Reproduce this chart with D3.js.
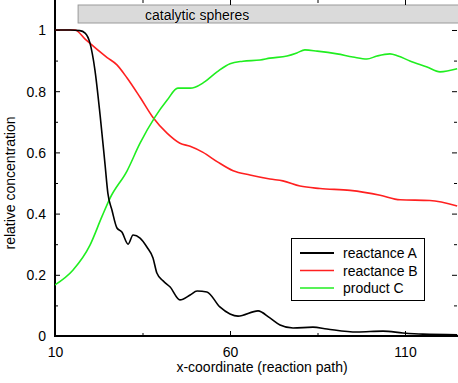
<!DOCTYPE html>
<html><head><meta charset="utf-8">
<script src="https://cdn.jsdelivr.net/npm/d3@7"></script>
<style>
body{margin:0;background:#fff;}
text{font-family:"Liberation Sans",Arial,Helvetica,sans-serif;}
</style></head>
<body><svg id="c" width="458" height="383"></svg>
<script>
const seriesNames = ["reactance A", "reactance B", "product C"];
const seriesColors = ["#000000", "#ff2020", "#20ee20"];
const xA = [10,14.3,17.1,18.6,20,21.4,22.9,24.3,25.1,26.3,27.7,29.1,30.9,32.3,34.3,36.3,38,39.1,40.9,42.9,45.7,48.6,50.6,53.4,57.1,60,62.3,68,71.4,74.3,78,83.7,87.7,96.3,103.7,109.4,115.1,124.9];
const yA = [1.0,1.0,0.998,0.99,0.957,0.87,0.72,0.56,0.467,0.41,0.353,0.34,0.30,0.33,0.32,0.29,0.255,0.206,0.18,0.16,0.118,0.134,0.147,0.144,0.095,0.072,0.065,0.082,0.059,0.036,0.026,0.029,0.023,0.013,0.016,0.01,0.006,0.004];
const xB = [10,15.7,18.6,24.9,27.7,30.6,34.3,38,42,45.7,48.6,52.3,56.3,60.9,65.7,71.4,75.1,80,85.7,94.3,102.9,108.6,117.1,124.9];
const yB = [1.0,1.0,0.97,0.91,0.886,0.843,0.78,0.714,0.663,0.63,0.62,0.60,0.57,0.54,0.526,0.513,0.507,0.49,0.482,0.476,0.46,0.445,0.443,0.425];
const xC = [10,15.1,20,23.4,25.7,30.6,34.3,38.6,42,45.1,48.6,50,52.3,56.3,60,63.7,68.6,71.4,76.3,79.1,81.4,84.9,90.6,95.1,99.1,102,105.7,108,111.4,116.3,120,124.9];
const yC = [0.167,0.215,0.297,0.39,0.45,0.54,0.63,0.716,0.77,0.81,0.81,0.813,0.827,0.863,0.89,0.898,0.902,0.908,0.915,0.925,0.935,0.931,0.922,0.912,0.905,0.915,0.922,0.915,0.899,0.879,0.863,0.873];
const xMajor = [10,60,110];
const xMinor = [35,85];
const yMajor = [0,0.2,0.4,0.6,0.8,1];
const yMinor = [0.1,0.3,0.5,0.7,0.9];
const yLabels = ["0","0.2","0.4","0.6","0.8","1"];
const bandRange = [16.6, 126];
const bandLabel = "catalytic spheres";

const svg = d3.select("#c");
const L = 55, R = 458, T = 0, B = 336;
const x = d3.scaleLinear().domain([10, 125.14]).range([L, R]);
const y = d3.scaleLinear().domain([0, 1.098]).range([B, T]);

svg.append("defs").append("clipPath").attr("id","clip")
  .append("rect").attr("x",L).attr("y",T).attr("width",R-L).attr("height",B-T);

// band
svg.append("rect").attr("x", x(bandRange[0])).attr("y", 5)
  .attr("width", x(bandRange[1]) - x(bandRange[0])).attr("height", 18)
  .attr("fill", "#dadada").attr("stroke", "#9a9a9a").attr("stroke-width", 1);
svg.append("text").attr("x", 145).attr("y", 19.5).attr("font-size", 14)
  .attr("fill", "#000").attr("stroke","#fff").attr("stroke-width",0.6).attr("paint-order","stroke").text(bandLabel);

// axes
const fmt = (d,i) => yLabels[yMajor.indexOf(d)];
const gx = svg.append("g").attr("transform", `translate(0,${B})`)
  .call(d3.axisBottom(x).tickValues(xMajor).tickSize(-5).tickPadding(9).tickFormat(d3.format("d")));
const gxm = svg.append("g").attr("transform", `translate(0,${B})`)
  .call(d3.axisBottom(x).tickValues(xMinor).tickSize(-3).tickFormat(""));
const gxt = svg.append("g").attr("transform", `translate(0,${T})`)
  .call(d3.axisTop(x).tickValues(xMajor).tickSize(-5).tickFormat(""));
const gxtm = svg.append("g").attr("transform", `translate(0,${T})`)
  .call(d3.axisTop(x).tickValues(xMinor).tickSize(-3).tickFormat(""));
const gy = svg.append("g").attr("transform", `translate(${L},0)`)
  .call(d3.axisLeft(y).tickValues(yMajor).tickSize(-5).tickPadding(9).tickFormat(fmt));
const gym = svg.append("g").attr("transform", `translate(${L},0)`)
  .call(d3.axisLeft(y).tickValues(yMinor).tickSize(-3).tickFormat(""));
const gyr = svg.append("g").attr("transform", `translate(${R-1},0)`)
  .call(d3.axisRight(y).tickValues(yMajor).tickSize(-5).tickFormat(""));
const gyrm = svg.append("g").attr("transform", `translate(${R-1},0)`)
  .call(d3.axisRight(y).tickValues(yMinor).tickSize(-3).tickFormat(""));
[gx,gxm,gxt,gxtm,gy,gym,gyr,gyrm].forEach(g => {
  g.selectAll("text").attr("font-size", 14).attr("fill","#000")
   .attr("font-family",'"Liberation Sans",Arial,sans-serif');
  g.selectAll(".tick line").attr("stroke","#000").attr("stroke-width",1);
  g.select(".domain").remove();
});
gx.selectAll("text").attr("dy","0.85em");
gy.selectAll("text").attr("dy","0.35em");
// main axis lines
svg.append("line").attr("x1",L).attr("x2",L).attr("y1",T).attr("y2",B+1).attr("stroke","#000").attr("stroke-width",2);
svg.append("line").attr("x1",L-1).attr("x2",R).attr("y1",B).attr("y2",B).attr("stroke","#000").attr("stroke-width",2);

// lines
const series = [[xA,yA],[xB,yB],[xC,yC]];
const line = d3.line().x(d=>x(d[0])).y(d=>y(d[1])).curve(d3.curveMonotoneX);
const order = [1,2,0];
order.forEach(i => {
  const pts = series[i][0].map((v,j)=>[v, series[i][1][j]]);
  svg.append("path").attr("clip-path","url(#clip)").attr("d", line(pts))
    .attr("fill","none").attr("stroke", seriesColors[i]).attr("stroke-width", 1.6);
});

// axis titles
svg.append("text").attr("transform","translate(15,183) rotate(-90)").attr("text-anchor","middle")
  .attr("font-size",14).text("relative concentration");
svg.append("text").attr("x",262).attr("y",372).attr("text-anchor","middle")
  .attr("font-size",14).text("x-coordinate (reaction path)");

// legend
const lg = svg.append("g");
lg.append("rect").attr("x",291.5).attr("y",238.5).attr("width",133).attr("height",62)
  .attr("fill","#fff").attr("stroke","#000").attr("stroke-width",1);
seriesNames.forEach((n,i) => {
  const yy = 253 + i*17.5;
  lg.append("line").attr("x1",300).attr("x2",334).attr("y1",yy).attr("y2",yy)
    .attr("stroke",seriesColors[i]).attr("stroke-width",i===0?2:1.6);
  lg.append("text").attr("x",343).attr("y",yy+5).attr("font-size",14).text(n);
});
</script></body></html>
